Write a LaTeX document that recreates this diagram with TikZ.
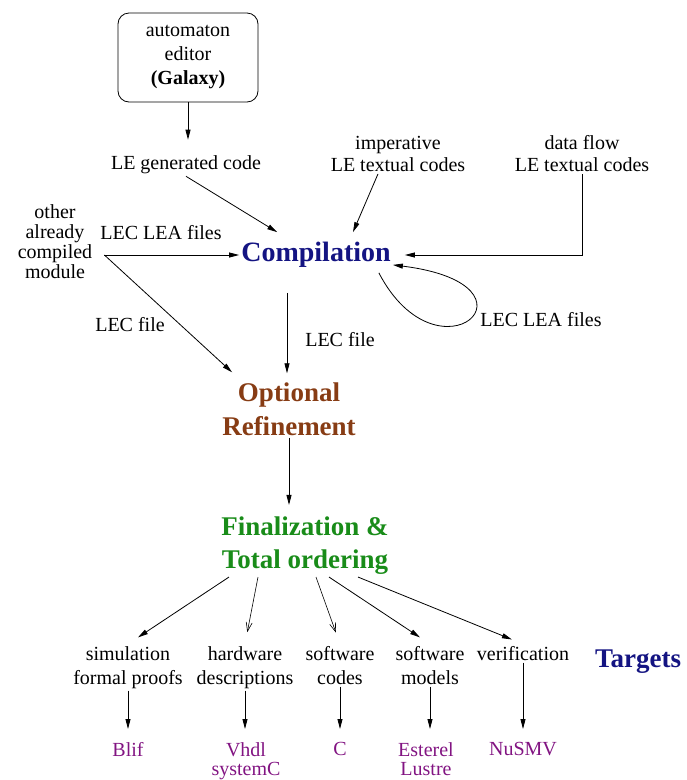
\documentclass[tikz,border=0pt]{standalone}
\usepackage{fontspec}
\setmainfont{LiberationSerif}[Extension=.ttf, UprightFont=*-Regular,
  BoldFont=*-Bold, ItalicFont=*-Italic, BoldItalicFont=*-BoldItalic]
\usetikzlibrary{calc, arrows.meta}
\definecolor{bleunuit}{RGB}{20,20,130}
\definecolor{brun}{RGB}{135,60,20}
\definecolor{vertfonce}{RGB}{25,140,25}
\definecolor{pourpre}{RGB}{130,20,130}
\tikzset{
  fleche/.style = {
    line width=.8pt, -{Triangle[length=10pt,width=5pt]}
  },
  fleche ouverte/.style = {
    line width=.6pt, -{Straight Barb[length=9pt,width=6pt]}
  },
  texte/.style = {
    align=center, inner sep=2pt,
    font=\fontsize{20}{22}\selectfont
  },
  titre/.style = {
    align=center, inner sep=2pt,
    font=\fontsize{27}{34}\selectfont\bfseries
  },
  cible/.style = {
    texte, text=pourpre, anchor=north,
    font=\fontsize{20}{19}\selectfont
  }
}

\begin{document}
\begin{tikzpicture}[x=1pt, y=-1pt]
    \useasboundingbox (0,0) rectangle (687,780);
    % les sources
    \node[texte, draw, line width=.8pt, rounded corners=11pt,
      minimum width=140pt, minimum height=89pt,
      font=\fontsize{20}{24}\selectfont]
      (editor) at (188,57.5) {automaton\\editor\\\textbf{(Galaxy)}};
    \node[texte] (gen) at (186,165) {LE generated code};
    \node[texte] (imp) at (398,154) {imperative\\LE textual codes};
    \node[texte] (flow) at (582,154) {data flow\\LE textual codes};
    \node[texte, font=\fontsize{20}{20}\selectfont]
      (other) at (55,242) {other\\already\\compiled\\module};
    % les étapes
    \node[titre, text=bleunuit, font=\fontsize{28}{34}\selectfont\bfseries]
      (comp) at (316,255) {Compilation};
    \node[titre, text=brun] (opt) at (289,409) {Optional\\Refinement};
    \node[titre, text=vertfonce, font=\fontsize{27}{33}\selectfont\bfseries]
      (fin) at (305,546) {Finalization \&\\Total ordering};
    % les étiquettes
    \node[texte] (lecleaA) at (161,233) {LEC LEA files};
    \node[texte] (lecA) at (130,325) {LEC file};
    \node[texte] (lecB) at (340,340) {LEC file};
    \node[texte] (lecleaB) at (541,320) {LEC LEA files};
    % les cibles
    \node[texte, anchor=north, font=\fontsize{20}{24}\selectfont]
      (sim) at (128,644) {simulation\\formal proofs};
    \node[texte, anchor=north, font=\fontsize{20}{24}\selectfont]
      (hw) at (245,644) {hardware\\descriptions};
    \node[texte, anchor=north, font=\fontsize{20}{24}\selectfont]
      (sw) at (340,644) {software\\codes};
    \node[texte, anchor=north, font=\fontsize{20}{24}\selectfont]
      (mod) at (430,644) {software\\models};
    \node[texte, anchor=north] (ver) at (523,644) {verification};
    \node[titre, text=bleunuit] (targets) at (638,662) {Targets};
    \node[cible] (blif) at (128,740) {Blif};
    \node[cible] (vhdl) at (246,740) {Vhdl\\systemC};
    \node[cible] (c) at (340,740) {C};
    \node[cible] (est) at (426,740) {Esterel\\Lustre};
    \node[cible] (nusmv) at (523,740) {NuSMV};
    % vers la compilation
    \path
      (editor.south) edge[fleche, shorten >=14pt] (editor.south |- gen.north)
      (gen.south) edge[fleche] ($(comp.north west)+(38,-8)$)
      ($(imp.south)+(-20,0)$) edge[fleche] ($(comp.north)+(37,-8)$)
      ($(other.east |- comp.west)+(10,0)$) edge[fleche] (comp.west)
      ($(other.east |- comp.west)+(10,0)$) edge[fleche]
        ($(opt.north west)+(12,-8)$)
    ;
    \draw[fleche, shorten >=12pt] (flow.south) |- (comp.east);
    \draw[fleche] ($(comp.south east)+(-14,3)$)
      .. controls +(60,115) and +(160,20) .. ($(comp.south east)+(0,-5)$);
    % la suite
    \path
      ($(opt.north |- comp.south)+(-2,23)$) edge[fleche] ($(opt.north)+(-2,-7)$)
      (opt.south) edge[fleche, shorten >=10pt] (opt.south |- fin.north)
      ($(fin.south)+(-76,0)$) edge[fleche, shorten >=12pt] (sim.north)
      ($(fin.south)+(-47,0)$) edge[fleche ouverte, shorten >=12pt] (hw.north)
      ($(fin.south)+(11,0)$) edge[fleche ouverte, shorten >=12pt] (sw.north)
      ($(fin.south)+(24,0)$) edge[fleche, shorten >=12pt] (mod.north)
      ($(fin.south)+(53,0)$) edge[fleche, shorten >=12pt] (ver.north)
    ;
    \path
      (sim.south) edge[fleche, shorten >=11pt] (sim.south |- blif.north)
      (hw.south) edge[fleche, shorten >=11pt] (hw.south |- vhdl.north)
      (sw.south) edge[fleche, shorten >=11pt] (sw.south |- c.north)
      (mod.south) edge[fleche, shorten >=11pt] (mod.south |- est.north)
      (ver.south) edge[fleche, shorten >=11pt] (ver.south |- nusmv.north)
    ;
  \end{tikzpicture}
\end{document}
